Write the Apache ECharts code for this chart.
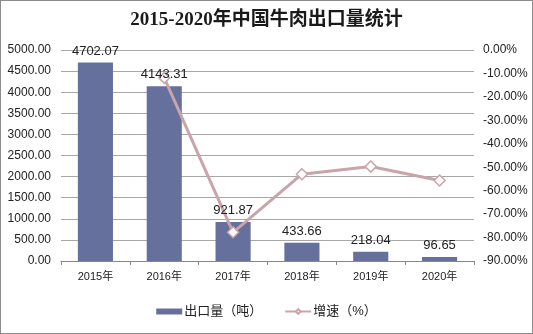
<!DOCTYPE html>
<html>
<head>
<meta charset="utf-8">
<script src="https://cdn.jsdelivr.net/npm/echarts@6/dist/echarts.min.js"></script>
<style>
  html, body { margin: 0; padding: 0; background: #fff; }
  #chart { width: 533px; height: 334px; box-sizing: border-box; border: 1px solid #8c8c8c; }
</style>
</head>
<body>
<div id="chart"></div>
<script>
const years = ['2015年', '2016年', '2017年', '2018年', '2019年', '2020年']
const exportVolume = [4702.07, 4143.31, 921.87, 433.66, 218.04, 96.65]
const growthRate = [null, -11.88, -77.75, -52.96, -49.72, -55.67]

const chart = echarts.init(document.getElementById('chart'))
const font = 'Liberation Sans, Arial, "Noto Sans CJK SC", sans-serif'

chart.setOption({
  animation: false,
  title: {
    text: '2015-2020年中国牛肉出口量统计',
    left: 'center',
    top: 5,
    textStyle: {
      fontFamily: '"Liberation Serif", "Noto Sans CJK SC", serif',
      fontWeight: 'bold',
      fontSize: 19,
      color: '#1a1a1a',
    },
  },
  grid: { left: 60, right: 58, top: 49, bottom: 72 },
  legend: {
    bottom: 10,
    left: 'center',
    itemWidth: 26,
    itemHeight: 6,
    itemGap: 22,
    textStyle: { fontFamily: font, fontSize: 13, color: '#222', padding: [0, 0, 0, -3] },
    data: [
      { name: '出口量（吨）', icon: 'rect' },
      { name: '增速（%）' },
    ],
  },
  xAxis: {
    type: 'category',
    data: years,
    axisLine: { lineStyle: { color: '#888' } },
    axisTick: { show: true, length: 4, lineStyle: { color: '#888' } },
    axisLabel: { fontFamily: font, fontSize: 11, color: '#222', margin: 10 },
  },
  yAxis: [
    {
      type: 'value',
      min: 0,
      max: 5000,
      interval: 500,
      axisLine: { show: false },
      axisTick: { show: false },
      splitLine: { lineStyle: { color: '#a8a8a8' } },
      axisLabel: {
        fontFamily: font, fontSize: 12, color: '#222', margin: 10,
        formatter: (v) => v.toFixed(2),
      },
    },
    {
      type: 'value',
      min: -90,
      max: 0,
      interval: 10,
      axisLine: { show: false },
      axisTick: { show: false },
      splitLine: { show: false },
      axisLabel: {
        fontFamily: font, fontSize: 12, color: '#222', margin: 9,
        formatter: (v) => v.toFixed(2) + '%',
      },
    },
  ],
  series: [
    {
      name: '出口量（吨）',
      type: 'bar',
      data: exportVolume,
      barWidth: '51%',
      itemStyle: { color: '#66709c' },
      z: 2,
    },
    {
      name: '增速（%）',
      type: 'line',
      yAxisIndex: 1,
      data: growthRate,
      symbol: 'diamond',
      symbolSize: 11,
      lineStyle: { color: '#c9a4aa', width: 3 },
      itemStyle: { color: '#fff', borderColor: '#c9a4aa', borderWidth: 1.5 },
      z: 3,
    },
    // transparent copy of the bars, only to draw the value labels above the line
    {
      name: 'labels',
      type: 'bar',
      data: exportVolume,
      barWidth: '51%',
      barGap: '-100%',
      itemStyle: { color: 'rgba(0,0,0,0)' },
      silent: true,
      z: 4,
      label: {
        show: true,
        position: 'top',
        distance: 5,
        fontFamily: font,
        fontSize: 13,
        color: '#222',
        formatter: (p) => p.value.toFixed(2),
      },
    },
  ],
})
</script>
</body>
</html>
